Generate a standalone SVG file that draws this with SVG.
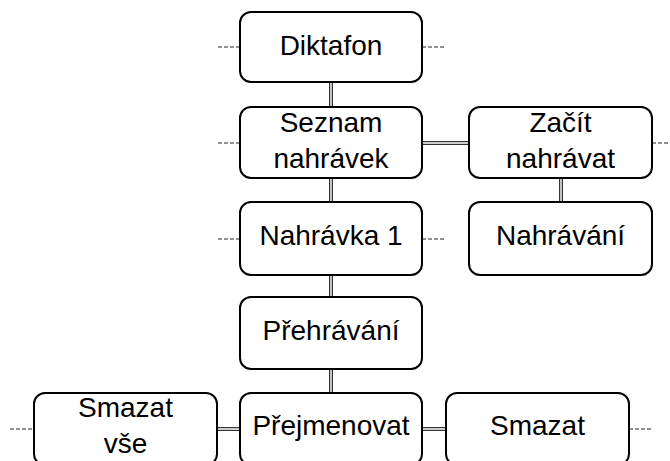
<svg xmlns="http://www.w3.org/2000/svg" width="670" height="461" viewBox="0 0 670 461">
<style>
.box{fill:#fff;stroke:#000;stroke-width:2}
.t{font-family:"Liberation Sans",Arial,sans-serif;font-size:28px;fill:#000;text-anchor:middle}
.dbl1{stroke:#333;stroke-width:4;fill:none}
.dbl2{stroke:#fff;stroke-width:1.4;fill:none}
.stub{stroke:#222;stroke-width:1.2;stroke-dasharray:4 2;fill:none}
</style>
<rect width="670" height="461" fill="#fff"/>
<g id="connectors">
<path class="dbl1" d="M331 82V107M331 178V202M331 275V297M331 369V393M561 178V202M422 143H469M217 429H240M422 429H446"/>
<path class="dbl2" d="M331 82V107M331 178V202M331 275V297M331 369V393M561 178V202M422 143H469M217 429H240M422 429H446"/>
<path class="stub" d="M218 47H240M422 47H445M218 143H240M652 143H670M218 239H240M422 239H445M10 429H34M629 429H652"/>
</g>
<g id="diktafon"><rect class="box" x="240" y="12" width="182" height="70" rx="11"/><text class="t" x="331" y="54.5">Diktafon</text></g>
<g id="seznam"><rect class="box" x="240" y="107" width="182" height="71" rx="11"/><text class="t" x="331" y="132">Seznam</text><text class="t" x="331" y="168">nahrávek</text></g>
<g id="zacit"><rect class="box" x="469" y="107" width="183" height="71" rx="11"/><text class="t" x="560.5" y="132">Začít</text><text class="t" x="560.5" y="168">nahrávat</text></g>
<g id="nahravka1"><rect class="box" x="240" y="202" width="182" height="73" rx="11"/><text class="t" x="331" y="245">Nahrávka 1</text></g>
<g id="nahravani"><rect class="box" x="469" y="202" width="183" height="73" rx="11"/><text class="t" x="560.5" y="245">Nahrávání</text></g>
<g id="prehravani"><rect class="box" x="240" y="297" width="182" height="72" rx="11"/><text class="t" x="331" y="340">Přehrávání</text></g>
<g id="smazatvse"><rect class="box" x="34" y="393" width="183" height="72" rx="11"/><text class="t" x="125.5" y="417">Smazat</text><text class="t" x="125.5" y="453">vše</text></g>
<g id="prejmenovat"><rect class="box" x="240" y="393" width="182" height="72" rx="11"/><text class="t" x="331" y="435">Přejmenovat</text></g>
<g id="smazat"><rect class="box" x="446" y="393" width="183" height="72" rx="11"/><text class="t" x="537.5" y="435">Smazat</text></g>
</svg>
